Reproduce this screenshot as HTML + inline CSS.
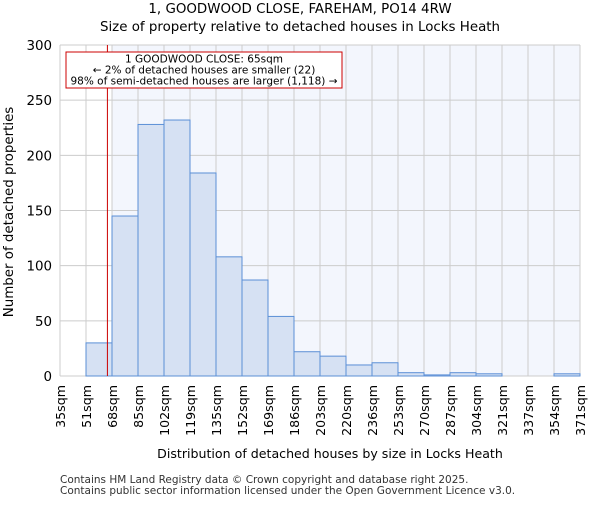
<!DOCTYPE html>
<html><head><meta charset="utf-8"><style>
body{margin:0;background:#fff;font-family:"Liberation Sans","DejaVu Sans",sans-serif;}
</style></head><body>
<svg id="c" width="600" height="500" xmlns="http://www.w3.org/2000/svg" font-family="DejaVu Sans, Liberation Sans, sans-serif">
<text x="300" y="13" font-size="13.4" text-anchor="middle">1, GOODWOOD CLOSE, FAREHAM, PO14 4RW</text>
<text x="300" y="31" font-size="13.4" text-anchor="middle">Size of property relative to detached houses in Locks Heath</text>
<g id="plot"></g>
<text x="330" y="458" font-size="12.6" text-anchor="middle">Distribution of detached houses by size in Locks Heath</text>
<text transform="translate(13,212) rotate(-90)" font-size="13.4" text-anchor="middle">Number of detached properties</text>
<text x="60" y="483" font-size="10.5" fill="#333">Contains HM Land Registry data © Crown copyright and database right 2025.</text>
<text x="60" y="494" font-size="10.5" fill="#333">Contains public sector information licensed under the Open Government Licence v3.0.</text>
</svg>
<script>
const binLabels=["35sqm","51sqm","68sqm","85sqm","102sqm","119sqm","135sqm","152sqm","169sqm","186sqm","203sqm","220sqm","236sqm","253sqm","270sqm","287sqm","304sqm","321sqm","337sqm","354sqm","371sqm"];
const counts=[0,30,145,228,232,184,108,87,54,22,18,10,12,3,1,3,2,0,0,2];
const yTicks=[0,50,100,150,200,250,300];
const propertySize=65;
const binEdges=[35,51,68,85,102,119,135,152,169,186,203,220,236,253,270,287,304,321,337,354,371];
const NS="http://www.w3.org/2000/svg";
const L=60,R=580,T=45,B=376,n=counts.length,bw=(R-L)/n;
const x=i=>L+i*bw;
const y=v=>B-(v/300)*(B-T);
function sizeX(s){for(let i=0;i<binEdges.length-1;i++){if(s<=binEdges[i+1])return x(i)+bw*(s-binEdges[i])/(binEdges[i+1]-binEdges[i]);}return R;}
const g=document.getElementById('plot');
function mk(t,a){const e=document.createElementNS(NS,t);for(const k in a)e.setAttribute(k,a[k]);g.appendChild(e);return e;}
const bg=mk('rect',{x:L,y:T,width:R-L,height:B-T,fill:'#fff'});


const px=sizeX(propertySize);
const sh=mk('rect',{x:x(2),y:T,width:R-x(2),height:B-T,fill:'#f3f6fd'});


for(let i=0;i<=n;i++){const l=mk('line',{x1:x(i),x2:x(i),y1:T,y2:B,stroke:'#ccc','stroke-width':1});

}
yTicks.forEach(v=>{const l=mk('line',{x1:L,x2:R,y1:y(v),y2:y(v),stroke:'#ccc','stroke-width':1});


const t=mk('text',{x:L-8,y:y(v)+5,'font-size':13.4,'text-anchor':'end'});t.textContent=v;

});
counts.forEach((c,i)=>{if(c<=0)return;const r=mk('rect',{x:x(i),y:y(c),width:bw,height:B-y(c),fill:'#d6e1f3',stroke:'#5b8fd6','stroke-width':1});

});
binLabels.forEach((s,i)=>{const t=mk('text',{transform:`translate(${x(i)+5},${385}) rotate(-90)`,'font-size':12.6,'text-anchor':'end'});t.textContent=s;

});
const rl=mk('line',{x1:px,x2:px,y1:T,y2:B,stroke:'#c00','stroke-width':1});


const box=mk('rect',{x:66,y:52,width:276,height:36,fill:'#fff',stroke:'#c00','stroke-width':1});


["1 GOODWOOD CLOSE: 65sqm","← 2% of detached houses are smaller (22)","98% of semi-detached houses are larger (1,118) →"].forEach((s,i)=>{const t=mk('text',{x:204,y:62.5+i*11,'font-size':10.5,'text-anchor':'middle'});t.textContent=s;

});
</script>
</body></html>
